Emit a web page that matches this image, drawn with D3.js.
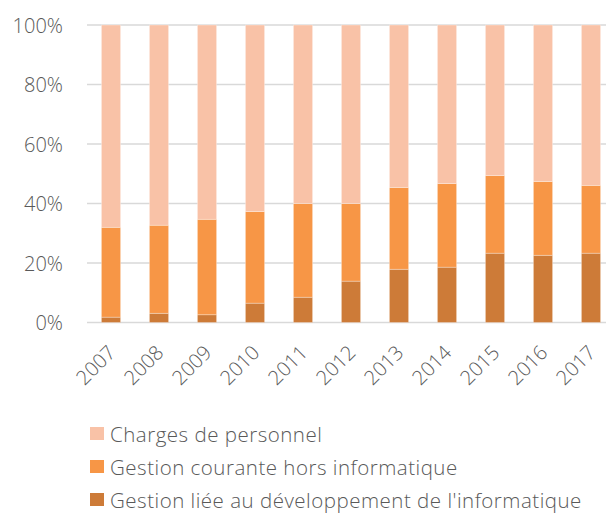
<!DOCTYPE html>
<html><head><meta charset="utf-8">
<script src="https://cdn.jsdelivr.net/npm/d3@7"></script>
<style>
body{margin:0;background:#fff;}
text{font-family:"Segoe UI Light","Open Sans","Lato",sans-serif;font-weight:300;fill:#595959;}
</style></head>
<body><svg id="c" width="606" height="515"></svg>
<script>
const years = ["2007","2008","2009","2010","2011","2012","2013","2014","2015","2016","2017"];
const devInfo = [1.8,3.1,2.6,6.5,8.5,13.9,17.9,18.6,23.3,22.6,23.3];
const gestionCourante = [30.2,29.6,32.1,30.8,31.5,26.1,27.5,28.1,26.1,24.8,22.8];
const charges = years.map((y,i)=>100-devInfo[i]-gestionCourante[i]);
const seriesNames = ["Gestion liée au développement de l'informatique","Gestion courante hors informatique","Charges de personnel"];
const colors = ["#CD7B38","#F79646","#F9C2A7"];
const yTicks = [0,20,40,60,80,100];

const svg = d3.select("#c");
const x = d3.scaleBand().domain(years).range([87,615]).paddingInner(0.6).paddingOuter(0.3);
const y = d3.scaleLinear().domain([0,100]).range([322.5,25]);

const data = years.map((yr,i)=>({year:yr, a:devInfo[i], b:gestionCourante[i], c:charges[i]}));
const stack = d3.stack().keys(["a","b","c"])(data);

// gridlines
svg.append("g").selectAll("line").data(yTicks).join("line")
  .attr("x1",87).attr("x2",606).attr("y1",d=>y(d)).attr("y2",d=>y(d))
  .attr("stroke","#d9d9d9").attr("stroke-width",1.5);

svg.append("g").selectAll("g").data(stack).join("g")
  .attr("fill",(d,i)=>colors[i])
  .selectAll("rect").data(d=>d).join("rect")
  .attr("x",d=>x(d.data.year)).attr("width",x.bandwidth())
  .attr("y",d=>y(d[1])).attr("height",d=>y(d[0])-y(d[1]))
  .attr("stroke","#fff").attr("stroke-opacity",0.4).attr("stroke-width",0.75);

// y axis labels
const yAxis = d3.axisLeft(y).tickValues(yTicks).tickFormat(d=>d+"%").tickSize(0).tickPadding(0);
const ga = svg.append("g").attr("transform","translate(63,0)").call(yAxis);
ga.select(".domain").remove();
ga.selectAll("text").attr("font-size",20).attr("font-family",null).attr("dy","0.35em");

// x axis labels
const xAxis = d3.axisBottom(x).tickSize(0).tickPadding(0);
const gx = svg.append("g").attr("transform","translate(0,340)").call(xAxis);
gx.select(".domain").remove();
gx.selectAll("text").attr("font-size",20).attr("font-family",null)
  .attr("text-anchor","end").attr("dy","0.7em").attr("dx","0")
  .attr("transform","translate(-4,4) rotate(-45)");

// legend
const legendOrder = [2,1,0];
const lg = svg.append("g").selectAll("g").data(legendOrder).join("g")
  .attr("transform",(d,i)=>`translate(90,${434+i*33})`);
lg.append("rect").attr("x",0).attr("y",-7).attr("width",14).attr("height",13).attr("fill",d=>colors[d]);
lg.append("text").attr("x",20).attr("dy","0.38em").attr("font-size",20.5)
  .attr("letter-spacing",0.5).text(d=>seriesNames[d]);
</script></body></html>
